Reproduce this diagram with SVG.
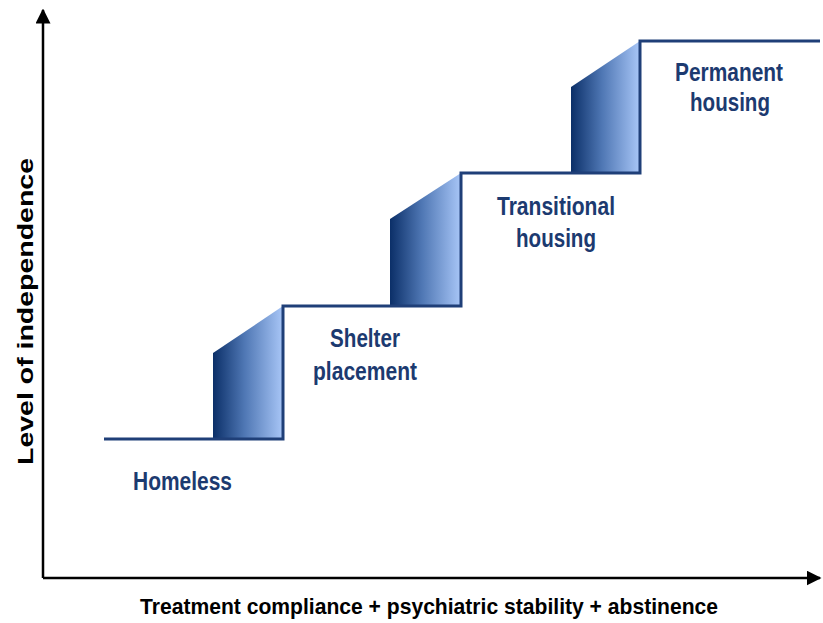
<svg xmlns="http://www.w3.org/2000/svg" width="823" height="623" viewBox="0 0 823 623">
<defs>
<linearGradient id="grad" x1="0" y1="0" x2="1" y2="0">
<stop offset="0" stop-color="#0b2f68"/>
<stop offset="0.45" stop-color="#4f77b4"/>
<stop offset="1" stop-color="#a8c6f7"/>
</linearGradient>
<marker id="arr" viewBox="0 0 10 10" refX="9" refY="5" markerWidth="6" markerHeight="6" markerUnits="strokeWidth" orient="auto">
<path d="M0,0 L10,5 L0,10 z" fill="#000"/>
</marker>
<style>
.riser{fill:url(#grad);stroke:none}
.stair{fill:none;stroke:#1f3f78;stroke-width:3}
.axis{fill:none;stroke:#000;stroke-width:2.5}
.lbl{font-family:"Liberation Sans",Arial,sans-serif;font-weight:bold;font-size:26px;fill:#1c3a70;text-anchor:middle}
.ax{font-family:"Liberation Sans",Arial,sans-serif;font-weight:bold;font-size:22px;fill:#000}
</style>
</defs>
<g id="axes">
<line class="axis" x1="43" y1="578" x2="43" y2="10" marker-end="url(#arr)"/>
<line class="axis" x1="43" y1="578" x2="820" y2="578" marker-end="url(#arr)"/>
</g>
<g id="risers">
<polygon class="riser" points="213,353 283,306 283,439 213,439"/>
<polygon class="riser" points="390,219 461,173 461,306 390,306"/>
<polygon class="riser" points="571,87 640,41 640,173 571,173"/>
</g>
<g id="connectors">
<polyline class="stair" points="104,439 283,439 283,306 461,306 461,173 640,173 640,41 820,41"/>
</g>
<g id="node-homeless"><text class="lbl" x="182.5" y="490" textLength="99" lengthAdjust="spacingAndGlyphs">Homeless</text></g>
<g id="node-shelter">
<text class="lbl" x="365" y="347" textLength="70" lengthAdjust="spacingAndGlyphs">Shelter</text>
<text class="lbl" x="365" y="380" textLength="104" lengthAdjust="spacingAndGlyphs">placement</text>
</g>
<g id="node-transitional">
<text class="lbl" x="556" y="215" textLength="118" lengthAdjust="spacingAndGlyphs">Transitional</text>
<text class="lbl" x="556" y="247" textLength="80" lengthAdjust="spacingAndGlyphs">housing</text>
</g>
<g id="node-permanent">
<text class="lbl" x="729" y="81" textLength="108" lengthAdjust="spacingAndGlyphs">Permanent</text>
<text class="lbl" x="730" y="111" textLength="80" lengthAdjust="spacingAndGlyphs">housing</text>
</g>
<g id="axis-labels">
<text class="ax" x="140" y="614" textLength="578" lengthAdjust="spacingAndGlyphs">Treatment compliance + psychiatric stability + abstinence</text>
<text class="ax" transform="translate(33,465) rotate(-90)" x="0" y="0" textLength="307" lengthAdjust="spacingAndGlyphs">Level of independence</text>
</g>
</svg>
